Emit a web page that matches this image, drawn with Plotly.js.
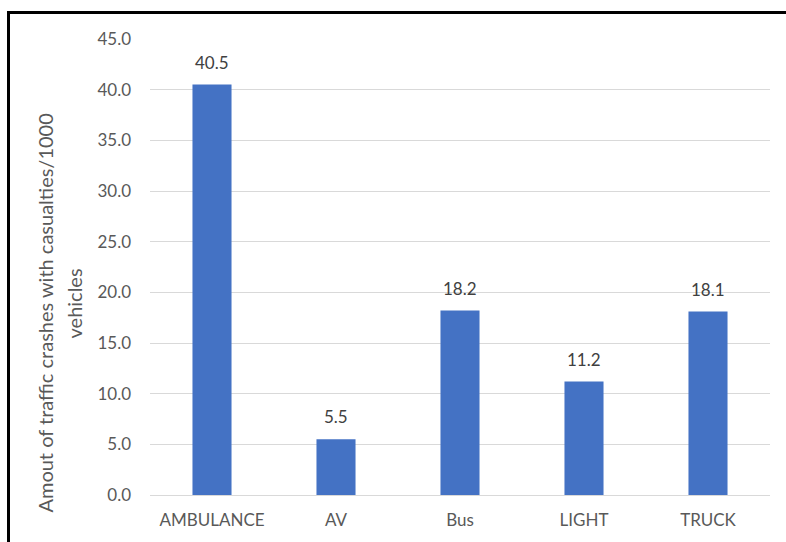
<!DOCTYPE html>
<html>
<head>
<meta charset="utf-8">
<script src="https://cdn.plot.ly/plotly-3.0.1.min.js"></script>
<style>
  html, body { margin: 0; padding: 0; background: #ffffff; }
  #wrap { position: relative; width: 786px; height: 542px; overflow: hidden; }
  #chart { position: absolute; left: 0; top: 0; width: 786px; height: 542px; }
  #frame { position: absolute; left: 7px; top: 11px; width: 800px; height: 600px;
           border-left: 3px solid #000; border-top: 3px solid #000; pointer-events: none; }
</style>
</head>
<body>
<div id="wrap">
  <div id="chart"></div>
  <div id="frame"></div>
</div>
<script>
const categories = ["AMBULANCE", "AV", "Bus", "LIGHT", "TRUCK"];
const crashesPer1000 = [40.5, 5.5, 18.2, 11.2, 18.1];
const yAxisTitleLines = ["Amout of traffic crashes with casualties/1000", "vehicles"];

const font = "Lato, 'Open Sans', sans-serif";

const trace = {
  type: "bar",
  x: categories,
  y: crashesPer1000,
  marker: { color: "#4472C4" },
  width: 0.315,
  hoverinfo: "none"
};

const labels = categories.map((c, i) => ({
  x: c, y: crashesPer1000[i], xref: "x", yref: "y",
  text: crashesPer1000[i].toFixed(1),
  showarrow: false, yanchor: "bottom", yshift: 10,
  font: { family: font, size: 17, color: "#404040" }
}));

const titleX = [-0.1694, -0.121];
const titleY = [0.40, 0.42];
yAxisTitleLines.forEach((t, i) => labels.push({
  text: t, xref: "paper", yref: "paper",
  x: titleX[i], y: titleY[i], xanchor: "center", yanchor: "middle",
  textangle: -90, showarrow: false,
  font: { family: font, size: 20, color: "#595959" }
}));

const layout = {
  width: 786, height: 542,
  margin: { l: 150, r: 16, t: 38.5, b: 47, pad: 0 },
  paper_bgcolor: "#ffffff", plot_bgcolor: "#ffffff",
  showlegend: false,
  bargap: 0.685,
  xaxis: {
    type: "category",
    showgrid: false, zeroline: false,
    showline: true, linecolor: "#d9d9d9", linewidth: 1,
    ticks: "", ticklabelstandoff: 10,
    tickfont: { family: font, size: 17, color: "#595959" }
  },
  yaxis: {
    range: [0, 45], dtick: 5, tick0: 0, tickformat: ".1f",
    showgrid: true, gridcolor: "#d9d9d9", gridwidth: 1,
    zeroline: false, showline: false, ticks: "",
    ticklabelstandoff: 18,
    tickfont: { family: font, size: 17, color: "#595959" }
  },
  annotations: labels
};

Plotly.newPlot("chart", [trace], layout, { staticPlot: true, displayModeBar: false });
</script>
</body>
</html>
